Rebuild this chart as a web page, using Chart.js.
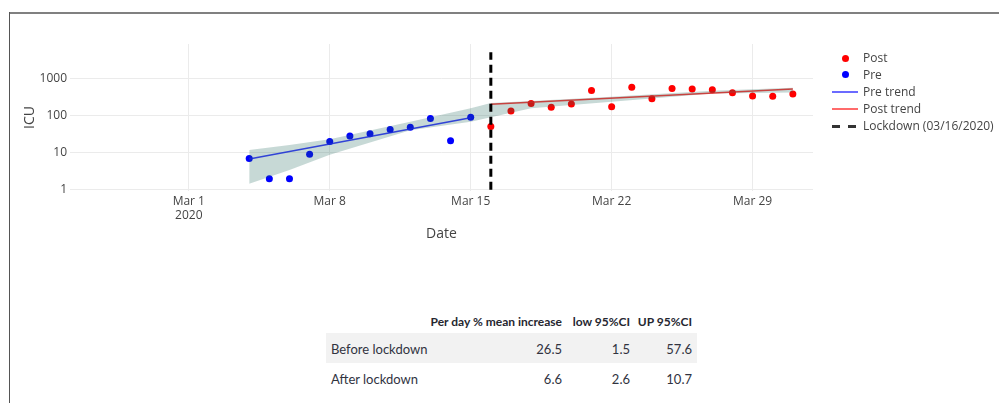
<!DOCTYPE html>
<html>
<head>
<meta charset="utf-8">
<script src="https://cdn.jsdelivr.net/npm/chart.js@4.4.1/dist/chart.umd.min.js"></script>
<style>
body { margin: 0; background: #fff; width: 999px; height: 403px; overflow: hidden; position: relative; font-family: "Open Sans", sans-serif; }
#frameTop { position: absolute; left: 9px; top: 12px; width: 990px; height: 2px; background: #808080; }
#frameLeft { position: absolute; left: 9px; top: 12px; width: 1px; height: 391px; background: #555; }
#wrap { position: absolute; left: 0; top: 0; width: 999px; height: 250px; }
.leg { position: absolute; left: 863px; font-size: 12px; color: #444; line-height: 16px; white-space: nowrap; }
.sym { position: absolute; }
.row { position: absolute; left: 326px; width: 371px; display: flex; font-family: Lato, sans-serif; font-size: 13px; color: #31333f; white-space: nowrap; }
.row div { box-sizing: border-box; padding-right: 5px; text-align: right; white-space: nowrap; overflow: visible; }
.row div.c0 { width: 95px; text-align: left; padding-left: 5px; }
.row div.c1 { width: 146px; }
.row div.c2 { width: 68px; }
.row div.c3 { width: 62px; }
.hdr { font-weight: bold; color: #262730; font-size: 12px; }
</style>
</head>
<body>
<div id="frameTop"></div>
<div id="frameLeft"></div>
<div id="wrap"><canvas id="chart"></canvas></div>
<div id="legend"></div>
<div id="table"></div>
<script>
// observations
const preDates = ['2020-03-04','2020-03-05','2020-03-06','2020-03-07','2020-03-08','2020-03-09',
    '2020-03-10','2020-03-11','2020-03-12','2020-03-13','2020-03-14','2020-03-15']
const preICU = [7, 2, 2, 9, 20, 28, 32, 42, 48, 82, 21, 89]

const postDates = ['2020-03-16','2020-03-17','2020-03-18','2020-03-19','2020-03-20','2020-03-21',
    '2020-03-22','2020-03-23','2020-03-24','2020-03-25','2020-03-26','2020-03-27','2020-03-28',
    '2020-03-29','2020-03-30','2020-03-31']
const postICU = [50, 131, 210, 165, 203, 468, 171, 575, 281, 532, 510, 490, 406, 330, 325, 375]

// fitted trends
const preTrendDates = ['2020-03-04', '2020-03-15']
const preTrend = [6.7, 86]
const postTrendDates = ['2020-03-16', '2020-03-31']
const postTrend = [198, 510]

// 95% CI band
const bandDates = ['2020-03-04','2020-03-06','2020-03-08','2020-03-12','2020-03-15','2020-03-16',
    '2020-03-18','2020-03-22','2020-03-27','2020-03-31']
const bandUpper = [11.8, 16, 23, 68, 155, 215, 245, 317, 458, 550]
const bandLower = [1.45, 3.4, 8.7, 40, 68, 89, 155, 234, 390, 415]

// lockdown marker
const lockDates = ['2020-03-16', '2020-03-16']
const lockICU = [1, 5000]

// axes
const xTickDates = ['2020-03-01','2020-03-08','2020-03-15','2020-03-22','2020-03-29']
const xTickLabels = [['Mar 1', '2020'], 'Mar 8', 'Mar 15', 'Mar 22', 'Mar 29']
const yTicks = [1, 10, 100, 1000]

// table
const tableHeader = ['', 'Per day % mean increase', 'low 95%CI', 'UP 95%CI']
const tableRows = [
    ['Before lockdown', '26.5', '1.5', '57.6'],
    ['After lockdown', '6.6', '2.6', '10.7']
]

const origin = Date.parse('2020-03-01')
function dayNum(s) {
    return (Date.parse(s) - origin) / 86400000
}
function pts(dates, vals) {
    return dates.map((d, i) => ({x: dayNum(d), y: vals[i]}))
}

const xTickValues = xTickDates.map(dayNum)
const tickFont = {family: '"Open Sans", sans-serif', size: 12}
const titleFont = {family: '"Open Sans", sans-serif', size: 14}

const datasets = [{
    label: 'Lockdown (03/16/2020)',
    data: pts(lockDates, lockICU),
    borderColor: '#000',
    borderWidth: 3,
    borderDash: [8, 5],
    pointRadius: 0,
    order: 0
}, {
    label: 'upper',
    data: pts(bandDates, bandUpper),
    borderWidth: 0,
    pointRadius: 0,
    fill: {target: 2},
    backgroundColor: 'rgba(30,105,90,0.25)',
    order: 1
}, {
    label: 'lower',
    data: pts(bandDates, bandLower),
    borderWidth: 0,
    pointRadius: 0,
    fill: false,
    order: 2
}, {
    label: 'Pre trend',
    data: pts(preTrendDates, preTrend),
    borderColor: 'rgba(20,20,255,0.85)',
    borderWidth: 1.5,
    pointRadius: 0,
    order: 3
}, {
    label: 'Post trend',
    data: pts(postTrendDates, postTrend),
    borderColor: 'rgba(255,20,20,0.85)',
    borderWidth: 1.5,
    pointRadius: 0,
    order: 4
}, {
    label: 'Pre',
    data: pts(preDates, preICU),
    showLine: false,
    pointRadius: 3.5,
    pointBorderWidth: 0,
    pointBackgroundColor: '#0000ff',
    order: 5
}, {
    label: 'Post',
    data: pts(postDates, postICU),
    showLine: false,
    pointRadius: 3.5,
    pointBorderWidth: 0,
    pointBackgroundColor: '#ff0000',
    order: 6
}]

const chart = new Chart(document.getElementById('chart'), {
    type: 'line',
    data: {datasets: datasets},
    options: {
        responsive: true,
        maintainAspectRatio: false,
        animation: false,
        layout: {padding: {left: 0, top: 44, right: 186, bottom: 0}},
        plugins: {legend: {display: false}, tooltip: {enabled: false}},
        scales: {
            x: {
                type: 'linear',
                min: -5.9,
                max: 31,
                afterBuildTicks: (s) => { s.ticks = xTickValues.map(v => ({value: v})) },
                afterFit: (s) => { s.height = 59 },
                ticks: {
                    color: '#444',
                    font: tickFont,
                    padding: 3,
                    maxRotation: 0,
                    callback: (v) => xTickLabels[xTickValues.indexOf(v)]
                },
                grid: {color: '#ebebeb', drawTicks: false},
                border: {display: false},
                title: {display: true, text: 'Date', color: '#444', font: titleFont, padding: {top: 0, bottom: 8}}
            },
            y: {
                type: 'logarithmic',
                min: 0.93,
                max: 8300,
                afterBuildTicks: (s) => { s.ticks = yTicks.map(v => ({value: v})) },
                afterFit: (s) => { s.width = 70 },
                ticks: {
                    color: '#444',
                    font: tickFont,
                    padding: 3,
                    callback: (v) => String(v)
                },
                grid: {color: '#ebebeb', drawTicks: false},
                border: {display: false},
                title: {display: true, text: 'ICU', color: '#444', font: titleFont, padding: {top: 22, bottom: 0}}
            }
        }
    }
})

// legend, same order as the plot
const legendItems = [
    {text: 'Post', kind: 'dot', color: '#ff0000'},
    {text: 'Pre', kind: 'dot', color: '#0000ff'},
    {text: 'Pre trend', kind: 'line', color: '#6b6bff'},
    {text: 'Post trend', kind: 'line', color: '#ff6b6b'},
    {text: 'Lockdown (03/16/2020)', kind: 'dash', color: '#333'}
]
const legendY = [58, 74.5, 91.5, 108.5, 126]
let legHtml = ''
legendItems.forEach((it, i) => {
    const cy = legendY[i]
    legHtml += '<div class="leg" style="top:' + (cy - 8) + 'px">' + it.text + '</div>'
    if (it.kind == 'dot') {
        legHtml += '<div class="sym" style="left:841.5px;top:' + (cy - 3.5) + 'px;width:7px;height:7px;border-radius:50%;background:' + it.color + '"></div>'
    } else if (it.kind == 'line') {
        legHtml += '<div class="sym" style="left:832px;top:' + (cy - 1) + 'px;width:26px;height:2px;background:' + it.color + '"></div>'
    } else {
        legHtml += '<div class="sym" style="left:832px;top:' + (cy - 1.5) + 'px;width:8px;height:3px;background:' + it.color + '"></div>'
        legHtml += '<div class="sym" style="left:848px;top:' + (cy - 1.5) + 'px;width:8px;height:3px;background:' + it.color + '"></div>'
    }
})
document.getElementById('legend').innerHTML = legHtml

// table
const rowTops = [310, 333, 363]
let tHtml = '<div class="row hdr" style="top:' + rowTops[0] + 'px;height:24px;line-height:24px">'
tableHeader.forEach((h, j) => { tHtml += '<div class="c' + j + '">' + h + '</div>' })
tHtml += '</div>'
tableRows.forEach((r, i) => {
    const bg = i == 0 ? 'background:#f2f2f2;' : ''
    tHtml += '<div class="row" style="' + bg + 'top:' + rowTops[i + 1] + 'px;height:30px;line-height:32px">'
    r.forEach((c, j) => { tHtml += '<div class="c' + j + '">' + c + '</div>' })
    tHtml += '</div>'
})
document.getElementById('table').innerHTML = tHtml
</script>
</body>
</html>
